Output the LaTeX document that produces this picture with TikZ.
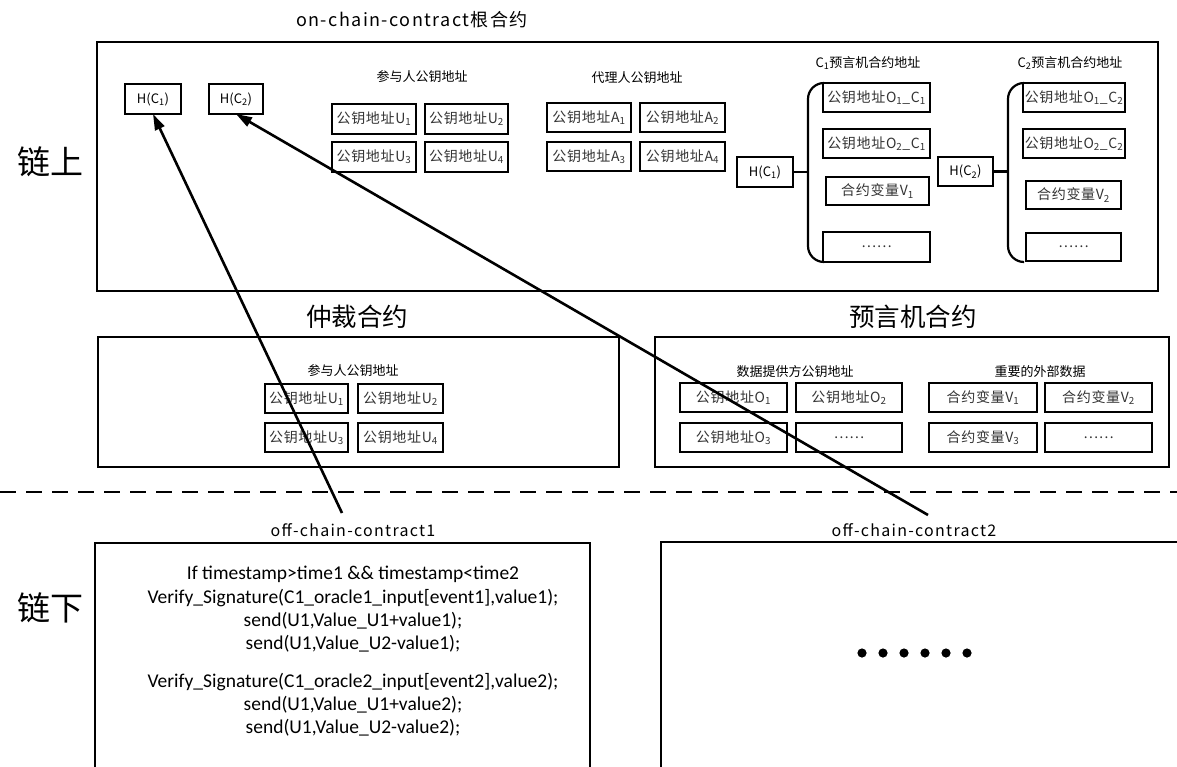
\documentclass[tikz,border=0pt]{standalone}
\usepackage{fontspec}
\setmainfont{Noto Sans CJK SC}
\newfontfamily\widefont[LetterSpace=8]{Noto Sans CJK SC}
\newfontfamily\boxfont[LetterSpace=5]{Noto Sans CJK SC}
\newfontfamily\codefont{Carlito}
\usetikzlibrary{arrows.meta}
\tikzset{
  every node/.style={inner sep=0pt, outer sep=0pt},
  box/.style={draw, line width=1.3pt, font=\boxfont\fontsize{14}{15}\selectfont, text=black!80},
  hbox/.style={draw, line width=1.3pt, font=\fontsize{13}{14}\selectfont},
  lab/.style={font=\fontsize{13}{14}\selectfont},
  ttl/.style={font=\fontsize{25.5}{28}\selectfont},
  big/.style={draw, line width=1.2pt},
  code/.style={font=\codefont\fontsize{19.5}{22}\selectfont},
  link/.style={line width=2.6pt, -{Triangle[length=16pt,width=10pt]}},
  conn/.style={line width=2.2pt},
}
\begin{document}
\begin{tikzpicture}[x=1pt,y=-1pt]
\useasboundingbox (0,0) rectangle (1177,766);
% side labels
\node[font=\fontsize{33}{36}\selectfont] (on) at (50,162) {链上};
\node[font=\fontsize{33}{36}\selectfont] (off) at (50,608) {链下};
% top box
\node[font=\widefont\fontsize{18}{20}\selectfont] (toptitle) at (412,20) {on-chain-contract根合约};
\node[big, minimum width=1061pt, minimum height=249pt] (top) at (627.5,166.5) {};
\node[hbox, minimum width=56pt, minimum height=30pt] (hc1) at (153,99) {H(C\textsubscript{1})};
\node[hbox, minimum width=54pt, minimum height=30pt] (hc2) at (236,99) {H(C\textsubscript{2})};
\node[lab] (plab) at (422,77) {参与人公钥地址};
\node[box, minimum width=84pt, minimum height=30pt] (u1) at (374,119) {公钥地址U\textsubscript{1}};
\node[box, minimum width=83pt, minimum height=30pt] (u2) at (466.5,119) {公钥地址U\textsubscript{2}};
\node[box, minimum width=84pt, minimum height=30pt] (u3) at (374,157) {公钥地址U\textsubscript{3}};
\node[box, minimum width=83pt, minimum height=30pt] (u4) at (466.5,157) {公钥地址U\textsubscript{4}};
\node[lab] (alab) at (637,78) {代理人公钥地址};
\node[box, minimum width=84pt, minimum height=29pt] (a1) at (589,117.5) {公钥地址A\textsubscript{1}};
\node[box, minimum width=85pt, minimum height=29pt] (a2) at (682.5,117.5) {公钥地址A\textsubscript{2}};
\node[box, minimum width=84pt, minimum height=29pt] (a3) at (589,156.5) {公钥地址A\textsubscript{3}};
\node[box, minimum width=85pt, minimum height=29pt] (a4) at (682.5,156.5) {公钥地址A\textsubscript{4}};
% C1 oracle group
\node[lab] (c1lab) at (868,63) {C\textsubscript{1}预言机合约地址};
\node[hbox, minimum width=56pt, minimum height=30pt] (hb1) at (765,172) {H(C\textsubscript{1})};
\node[box, minimum width=107pt, minimum height=29pt] (o11) at (876.5,97.5) {公钥地址O\textsubscript{1}\_C\textsubscript{1}};
\node[box, minimum width=107pt, minimum height=29pt] (o21) at (876.5,143.5) {公钥地址O\textsubscript{2}\_C\textsubscript{1}};
\node[box, minimum width=103pt, minimum height=28pt] (v1) at (877.5,191) {合约变量V\textsubscript{1}};
\node[box, minimum width=107pt, minimum height=30pt] (d1) at (876.5,247) {……};
\coordinate (br1) at (808,172);
\draw[conn, rounded corners=16pt] (o11.north west) -- (808,83) -- (808,262) -- (d1.south west);
\draw[conn] (hb1.east) -- (br1);
% C2 oracle group
\node[lab] (c2lab) at (1070,63) {C\textsubscript{2}预言机合约地址};
\node[hbox, minimum width=55pt, minimum height=29pt] (hb2) at (965.5,171.5) {H(C\textsubscript{2})};
\node[box, minimum width=102pt, minimum height=29pt] (o12) at (1074,97.5) {公钥地址O\textsubscript{1}\_C\textsubscript{2}};
\node[box, minimum width=102pt, minimum height=29pt] (o22) at (1074,143.5) {公钥地址O\textsubscript{2}\_C\textsubscript{2}};
\node[box, minimum width=95pt, minimum height=28pt] (v2) at (1073.5,195) {合约变量V\textsubscript{2}};
\node[box, minimum width=95pt, minimum height=28pt] (d2) at (1073.5,247) {……};
\coordinate (br2) at (1008,171.5);
\draw[conn, rounded corners=16pt] (o12.north west) -- (1008,83) -- (1008,262) -- (1023,262);
\draw[conn] (hb2.east) -- (br2);
% arbitration contract
\node[ttl] (arbt) at (357,317) {仲裁合约};
\node[big, minimum width=521pt, minimum height=130pt] (arb) at (358.5,402) {};
\node[lab] (arblab) at (353,371) {参与人公钥地址};
\node[box, minimum width=83pt, minimum height=29pt] (au1) at (306.5,398.5) {公钥地址U\textsubscript{1}};
\node[box, minimum width=85pt, minimum height=29pt] (au2) at (400.5,398.5) {公钥地址U\textsubscript{2}};
\node[box, minimum width=83pt, minimum height=29pt] (au3) at (306.5,437.5) {公钥地址U\textsubscript{3}};
\node[box, minimum width=85pt, minimum height=29pt] (au4) at (400.5,437.5) {公钥地址U\textsubscript{4}};
% oracle contract
\node[ttl] (orat) at (913,317) {预言机合约};
\node[big, minimum width=514pt, minimum height=130pt] (ora) at (912,402) {};
\node[lab] (dlab) at (795,372) {数据提供方公钥地址};
\node[lab] (elab) at (1040,372) {重要的外部数据};
\node[box, minimum width=107pt, minimum height=29pt] (ob1) at (733.5,397.5) {公钥地址O\textsubscript{1}};
\node[box, minimum width=106pt, minimum height=29pt] (ob2) at (849,397.5) {公钥地址O\textsubscript{2}};
\node[box, minimum width=107pt, minimum height=29pt] (ob3) at (733.5,437.5) {公钥地址O\textsubscript{3}};
\node[box, minimum width=106pt, minimum height=29pt] (ob4) at (849,437.5) {……};
\node[box, minimum width=108pt, minimum height=29pt] (ov1) at (983,397.5) {合约变量V\textsubscript{1}};
\node[box, minimum width=107pt, minimum height=29pt] (ov2) at (1098.5,397.5) {合约变量V\textsubscript{2}};
\node[box, minimum width=108pt, minimum height=29pt] (ov3) at (983,437.5) {合约变量V\textsubscript{3}};
\node[box, minimum width=107pt, minimum height=29pt] (ov4) at (1098.5,437.5) {……};
% divider
\coordinate (dl) at (0,492);
\coordinate (dr) at (1177,492);
\draw[line width=2pt, dash pattern=on 16pt off 10pt] (dl) -- (dr);
% off-chain contracts
\node[font=\widefont\fontsize{16}{18}\selectfont] (oc1lab) at (353,530) {off-chain-contract1};
\draw[line width=1.5pt] (95,770) -- (95,543) -- (590,543) -- (590,770);
\node[code] (l1) at (353,574) {If timestamp>time1 \&\& timestamp<time2};
\node[code] (l2) at (353,598) {Verify\_Signature(C1\_oracle1\_input[event1],value1);};
\node[code] (l3) at (353,621) {send(U1,Value\_U1+value1);};
\node[code] (l4) at (353,644) {send(U1,Value\_U2-value1);};
\node[code] (l5) at (353,682) {Verify\_Signature(C1\_oracle2\_input[event2],value2);};
\node[code] (l6) at (353,705) {send(U1,Value\_U1+value2);};
\node[code] (l7) at (353,728) {send(U1,Value\_U2-value2);};
\node[font=\widefont\fontsize{16}{18}\selectfont] (oc2lab) at (914,530) {off-chain-contract2};
\draw[line width=1.5pt] (661,770) -- (661,542) -- (1180,542);
\foreach \i in {0,...,5} \fill (862+21*\i,653) circle (4.6pt);
% arrows
\coordinate (s1) at (342,513);
\coordinate (s2) at (928,515);
\draw[link] (s1) -- (hc1.south);
\draw[link] (s2) -- (hc2.south);
\end{tikzpicture}
\end{document}
